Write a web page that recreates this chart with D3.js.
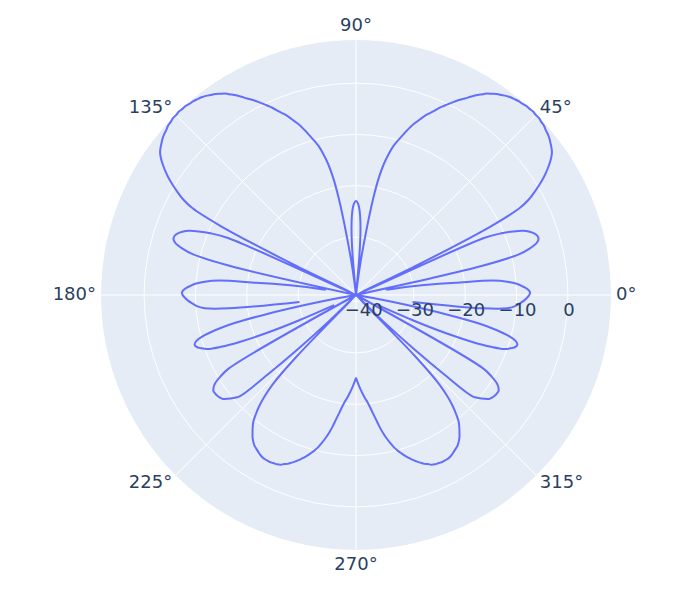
<!DOCTYPE html>
<html><head><meta charset="utf-8">
<script src="https://cdn.jsdelivr.net/npm/d3@7"></script>
<style>html,body{margin:0;padding:0;background:#fff}</style>
</head><body>
<svg id="chart" width="685" height="600"></svg>
<script>
// angle (degrees, counterclockwise from east) of every sample
const thetaDeg = d3.range(0, 361);
// radial values (dB), one per degree; null = gap in the line
const rDb = [
 -7.5, -7.4, -7.9, -8.8, -9.9, -11.7, -14.4, -21.8, -26.1, -30.6,
 -35.3, null, -41.3, -16.0, -8.6, -6.2, -4.7, -4.1, -4.1, -4.5,
 -5.3, -6.4, -8.2, -10.5, -14.0, -41.3, -27.7, -11.7, -5.1, -2.7,
 -1.1, 0.4, 1.8, 3.0, 4.1, 5.1, 5.9, 6.4, 6.8, 7.2,
 7.5, 7.7, 8.0, 8.1, 8.3, 8.3, 8.4, 8.3, 8.3, 8.1,
 8.0, 7.8, 7.6, 7.3, 6.9, 6.5, 6.0, 5.5, 4.8, 4.1,
 3.3, 2.5, 1.8, 1.0, 0.2, -0.6, -1.4, -2.3, -3.1, -3.9,
 -4.9, -5.8, -6.8, -8.0, -9.2, -10.3, -11.5, -13.2, -15.2, -18.1,
 -22.8, -29.2, -34.3, -39.0, -41.3, -33.9, -28.8, -25.9, -24.2, -23.3,
 -23.0, -23.3, -24.2, -25.9, -28.8, -33.9, -41.3, -39.0, -34.3, -29.2,
 -22.8, -18.1, -15.2, -13.2, -11.5, -10.3, -9.2, -8.0, -6.8, -5.8,
 -4.9, -3.9, -3.1, -2.3, -1.4, -0.6, 0.2, 1.0, 1.8, 2.5,
 3.3, 4.1, 4.8, 5.5, 6.0, 6.5, 6.9, 7.3, 7.6, 7.8,
 8.0, 8.1, 8.3, 8.3, 8.4, 8.3, 8.3, 8.1, 8.0, 7.7,
 7.5, 7.2, 6.8, 6.4, 5.9, 5.1, 4.1, 3.0, 1.8, 0.4,
 -1.1, -2.7, -5.1, -11.7, -27.7, -41.3, -14.0, -10.5, -8.2, -6.4,
 -5.3, -4.5, -4.1, -4.1, -4.7, -6.2, -8.6, -16.0, -41.3, null,
 -35.3, -30.6, -26.1, -21.8, -14.4, -11.7, -9.9, -8.8, -7.9, -7.4,
 -7.5, -8.0, -8.6, -9.4, -10.2, -11.7, -16.4, -30.2, null, -41.3,
 -37.4, -31.6, -23.8, -17.0, -13.1, -10.5, -9.0, -8.4, -8.6, -9.4,
 -10.5, -13.1, -17.0, -22.2, -29.2, -36.6, null, null, null, -41.3,
 -12.7, -10.5, -9.0, -8.2, -7.8, -7.8, -7.9, -8.1, -8.4, -9.2,
 -10.1, -11.1, -17.9, -25.7, -33.9, -41.3, -24.7, -17.5, -14.6, -12.5,
 -10.9, -9.5, -8.6, -7.8, -7.0, -6.4, -5.9, -5.6, -5.3, -5.0,
 -4.8, -4.7, -4.7, -4.7, -4.8, -4.9, -5.1, -5.5, -5.8, -6.3,
 -6.8, -7.3, -7.9, -8.5, -9.2, -9.9, -10.7, -11.7, -12.8, -14.0,
 -15.4, -16.9, -18.2, -19.4, -20.4, -21.1, -21.9, -22.7, -23.5, -24.3,
 -25.1, -24.3, -23.5, -22.7, -21.9, -21.1, -20.4, -19.4, -18.2, -16.9,
 -15.4, -14.0, -12.8, -11.7, -10.7, -9.9, -9.2, -8.5, -7.9, -7.3,
 -6.8, -6.3, -5.8, -5.5, -5.1, -4.9, -4.8, -4.7, -4.7, -4.7,
 -4.8, -5.0, -5.3, -5.6, -5.9, -6.4, -7.0, -7.8, -8.6, -9.5,
 -10.9, -12.5, -14.6, -17.5, -24.7, -41.3, -33.9, -25.7, -17.9, -11.1,
 -10.1, -9.2, -8.4, -8.1, -7.9, -7.8, -7.8, -8.2, -9.0, -10.5,
 -12.7, -41.3, null, null, null, -36.6, -29.2, -22.2, -17.0, -13.1,
 -10.5, -9.4, -8.6, -8.4, -9.0, -10.5, -13.1, -17.0, -23.8, -31.6,
 -37.4, -41.3, null, -30.2, -16.4, -11.7, -10.2, -9.4, -8.6, -8.0,
 -7.5
];
const radialTicks = [-40, -30, -20, -10, 0];
const angularTicks = [0, 45, 90, 135, 180, 225, 270, 315];

const cx = 356, cy = 295, R = 255;
const FONT = '"DejaVu Sans", Verdana, sans-serif';
const FS = 18;
const TXT = '#2a3f5f';

const data = thetaDeg.map((t, i) => ({ t, r: rDb[i] }));
const rScale = d3.scaleLinear()
  .domain(d3.extent(rDb.filter(v => v !== null)))
  .range([0, R]);
const aScale = d3.scaleLinear().domain([0, 360]).range([0, 2 * Math.PI]);

const svg = d3.select('#chart');
const g = svg.append('g');

g.append('circle').attr('cx', cx).attr('cy', cy).attr('r', R).attr('fill', '#E5ECF6');

// radial grid circles
g.selectAll('circle.grid').data(radialTicks).enter().append('circle')
  .attr('class', 'grid')
  .attr('cx', cx).attr('cy', cy).attr('r', d => rScale(d))
  .attr('fill', 'none').attr('stroke', '#fff').attr('stroke-width', 1);

// angular grid lines
g.selectAll('line.agrid').data(angularTicks).enter().append('line')
  .attr('class', 'agrid')
  .attr('x1', cx).attr('y1', cy)
  .attr('x2', d => cx + R * Math.cos(aScale(d)))
  .attr('y2', d => cy - R * Math.sin(aScale(d)))
  .attr('stroke', '#fff').attr('stroke-width', 1);

// trace
const line = d3.line()
  .defined(d => d.r !== null)
  .x(d => cx + rScale(d.r) * Math.cos(aScale(d.t)))
  .y(d => cy - rScale(d.r) * Math.sin(aScale(d.t)))
  .curve(d3.curveCatmullRom.alpha(0.5));

g.append('path').datum(data)
  .attr('d', line)
  .attr('fill', 'none')
  .attr('stroke', '#636efa')
  .attr('stroke-width', 2)
  .attr('stroke-linejoin', 'round');

// radial tick labels
g.selectAll('text.rt').data(radialTicks).enter().append('text')
  .attr('class', 'rt')
  .attr('x', d => cx + rScale(d) + 1)
  .attr('y', cy + 14.7)
  .attr('dy', '0.36em')
  .attr('text-anchor', 'middle')
  .attr('font-family', FONT).attr('font-size', FS).attr('fill', TXT)
  .text(d => d < 0 ? '\u2212' + Math.abs(d) : String(d));

// angular tick labels
g.selectAll('text.at').data(angularTicks).enter().append('text')
  .attr('class', 'at')
  .attr('x', d => cx + (R + 5) * Math.cos(aScale(d)))
  .attr('y', d => {
    const s = Math.sin(aScale(d));
    return cy - R * s - 1 - 14.5 * s * Math.abs(s);
  })
  .attr('dy', '0.36em')
  .attr('text-anchor', d => {
    const c = Math.cos(aScale(d));
    return c > 0.01 ? 'start' : (c < -0.01 ? 'end' : 'middle');
  })
  .attr('font-family', FONT).attr('font-size', FS).attr('fill', TXT)
  .text(d => d + '\u00B0');
</script>
</body></html>
